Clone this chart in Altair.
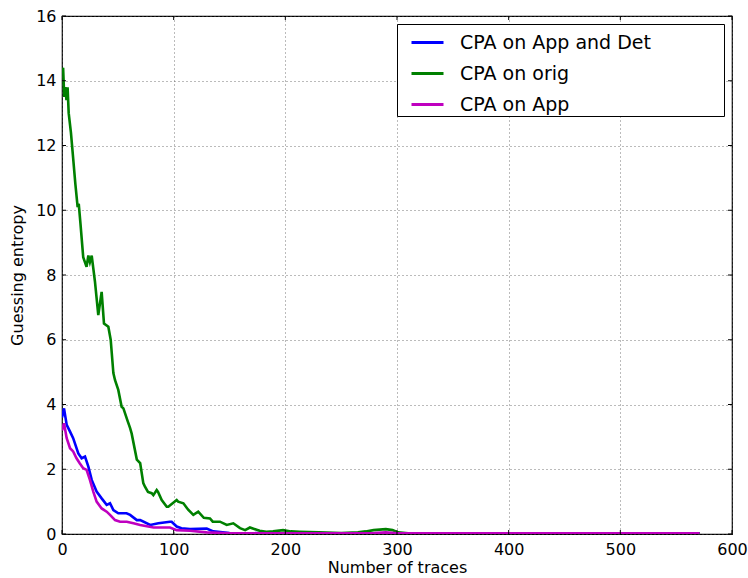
import altair as alt
import pandas as pd

# Series
orig_x = [0, 1, 2, 3, 4, 5, 6, 8, 10, 12, 14, 15, 16.5, 19, 22, 23.6, 25, 26.6, 29.5, 32.5, 35.5, 37.6,
          41.5, 43.6, 46, 47.5, 50.4, 53.4, 55, 58.5, 61, 62.4, 67, 70, 72.8, 74.3, 77, 80.3, 81.8, 84.8,
          86, 89.3, 93.8, 95.2, 102.7, 104, 108.7, 113, 117.6, 122, 127, 132.5, 135, 141.5, 147.5, 153.4,
          159.4, 164, 168.3, 177, 183, 189, 198, 205, 213, 230, 250, 265, 272, 279, 290, 296, 301, 310,
          350, 400, 450, 500, 550, 571]
orig_y = [14.3, 14.4, 13.5, 13.8, 13.4, 13.8, 13.0, 12.4, 11.6, 10.8, 10.1, 10.2, 9.6, 8.55, 8.25, 8.6, 8.4,
          8.6, 7.8, 6.76, 7.48, 6.5, 6.4, 6.0, 4.97, 4.75, 4.45, 3.93, 3.88, 3.52, 3.27, 3.1, 2.3, 2.19,
          1.57, 1.46, 1.3, 1.26, 1.2, 1.36, 1.3, 1.05, 0.84, 0.84, 1.05, 1.0, 0.95, 0.75, 0.59, 0.69, 0.5,
          0.48, 0.38, 0.38, 0.28, 0.33, 0.18, 0.12, 0.2, 0.1, 0.07, 0.08, 0.12, 0.08, 0.07, 0.05, 0.03, 0.05,
          0.08, 0.12, 0.15, 0.12, 0.05, 0.02, 0.02, 0.02, 0.02, 0.02, 0.02, 0.02]

appdet_x = [0, 1.8, 4.2, 7.2, 10, 14.6, 17.6, 20.6, 23.6, 26.6, 31, 35.5, 40, 43, 46, 50.4, 57.8, 61,
            67, 70, 79, 86.3, 96.7, 98.2, 102.7, 107, 114.6, 129.6, 135.5, 150, 200, 300, 400, 500, 571]
appdet_y = [3.6, 3.88, 3.37, 3.16, 2.96, 2.49, 2.34, 2.39, 2.08, 1.67, 1.31, 1.1, 0.9, 0.95, 0.74, 0.64,
            0.64, 0.59, 0.43, 0.43, 0.28, 0.33, 0.38, 0.38, 0.23, 0.18, 0.15, 0.17, 0.08, 0.03, 0.02, 0.02,
            0.02, 0.02, 0.02]

app_x = [0, 1.8, 4.2, 7.2, 10, 13, 16, 19, 22, 25, 28, 31, 35.5, 40, 43, 47.5, 52, 58, 64, 70, 82,
         96.7, 102.7, 114.6, 129.6, 150, 200, 280, 290, 300, 400, 500, 571]
app_y = [3.2, 3.42, 2.96, 2.65, 2.55, 2.34, 2.18, 2.03, 1.98, 1.67, 1.31, 1.0, 0.79, 0.69, 0.59, 0.43,
         0.38, 0.38, 0.33, 0.28, 0.2, 0.2, 0.12, 0.1, 0.05, 0.02, 0.02, 0.03, 0.05, 0.02, 0.02, 0.02, 0.02]

series_names = ["CPA on App and Det", "CPA on orig", "CPA on App"]
series_colors = ["#0000ff", "#008000", "#bf00bf"]

x_ticks = [0, 100, 200, 300, 400, 500, 600]
y_ticks = [0, 2, 4, 6, 8, 10, 12, 14, 16]

W, H = 670, 518

frames = []
for name, xs, ys in [(series_names[0], appdet_x, appdet_y),
                     (series_names[1], orig_x, orig_y),
                     (series_names[2], app_x, app_y)]:
    frames.append(pd.DataFrame({"traces": xs, "entropy": ys, "series": name}))
df = pd.concat(frames, ignore_index=True)

xscale = alt.Scale(domain=[0, 600], nice=False, zero=False)
yscale = alt.Scale(domain=[0, 16], nice=False, zero=False)
color = alt.Color("series:N",
                  scale=alt.Scale(domain=series_names, range=series_colors),
                  sort=series_names,
                  legend=alt.Legend(title=None, orient="none", legendX=335, legendY=8,
                                    symbolType="stroke", symbolSize=1024, symbolStrokeWidth=3,
                                    labelFontSize=19, labelFont="DejaVu Sans", labelColor="black",
                                    labelLimit=600, labelOffset=15, symbolOffset=12,
                                    rowPadding=3, padding=1,
                                    labelExpr="pad(datum.label, 21, '\u2800', 'right')",
                                    strokeColor="black", fillColor="white", cornerRadius=0))

base = alt.Chart(df)
layers = []
for i, name in enumerate(series_names):
    layers.append(
        base.transform_filter(alt.datum.series == name).mark_line(strokeWidth=2.6, clip=True).encode(
            x=alt.X("traces:Q", scale=xscale,
                    axis=alt.Axis(values=x_ticks, title="Number of traces", format="d")),
            y=alt.Y("entropy:Q", scale=yscale,
                    axis=alt.Axis(values=y_ticks, title="Guessing entropy", format="d")),
            color=color,
        )
    )

xt = pd.DataFrame({"v": x_ticks})
yt = pd.DataFrame({"v": y_ticks})
tick_style = dict(color="black", strokeWidth=1)
ticks = [
    alt.Chart(xt).mark_rule(**tick_style).encode(x=alt.X("v:Q", scale=xscale), y=alt.value(H), y2=alt.value(H - 4)),
    alt.Chart(xt).mark_rule(**tick_style).encode(x=alt.X("v:Q", scale=xscale), y=alt.value(0), y2=alt.value(4)),
    alt.Chart(yt).mark_rule(**tick_style).encode(y=alt.Y("v:Q", scale=yscale), x=alt.value(0), x2=alt.value(4)),
    alt.Chart(yt).mark_rule(**tick_style).encode(y=alt.Y("v:Q", scale=yscale), x=alt.value(W), x2=alt.value(W - 4)),
]

chart = alt.layer(*layers, *ticks).properties(
    width=W, height=H,
    autosize=alt.AutoSizeParams(type="none"),
    padding={"left": 62, "top": 16, "right": 16, "bottom": 44},
    background="white",
).configure_view(
    stroke="black", strokeWidth=1.2
).configure_axis(
    ticks=False, domain=False, labelFlush=False, labelOverlap=False,
    grid=True, gridColor="#555", gridDash=[1, 3], gridWidth=1, gridOpacity=0.8,
    labelFont="DejaVu Sans", labelFontSize=16, labelColor="black",
    titleFont="DejaVu Sans", titleFontSize=16, titleFontWeight="normal", titleColor="black",
).configure_axisX(
    labelPadding=7, titlePadding=2,
).configure_axisY(
    labelPadding=6, titlePadding=10,
)

chart.save("out.html", embed_options={"renderer": "svg", "actions": False})
